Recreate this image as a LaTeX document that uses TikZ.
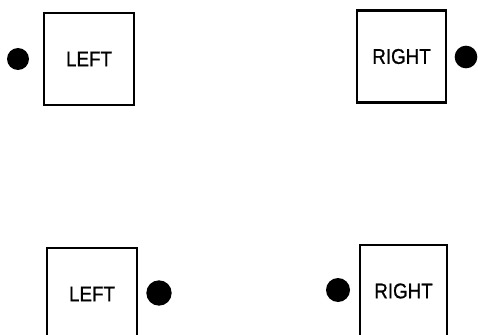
\documentclass[tikz,border=0pt]{standalone}
\usepackage{fontspec}
\newfontfamily\labelfont[FakeStretch=0.88,FakeBold=0.8]{Liberation Sans}
\begin{document}
\begin{tikzpicture}[x=0.75pt,y=-0.75pt,
  panel/.style={draw=black, line width=1.7pt, minimum width=68pt, minimum height=69pt,
    inner sep=0pt, font=\labelfont\fontsize{16}{19}\selectfont},
  lamp/.style={circle, fill=black, inner sep=0pt}]
\useasboundingbox (0,0) rectangle (478,335);
\clip (0,0) rectangle (478,335);
% upper row
\node[panel] (tl) at (89,59) {LEFT};
\node[lamp, minimum size=16.5pt] (tld) at (18,59) {};
\node[panel, minimum width=66.5pt] (tr) at (401.5,56.5) {RIGHT};
\node[lamp, minimum size=17pt] (trd) at (466,57) {};
% lower row (boxes run past the lower edge)
\node[panel, minimum width=67.5pt] (bl) at (92,294) {LEFT};
\node[lamp, minimum size=19pt] (bld) at (159,293) {};
\node[panel, minimum width=65pt] (br) at (403.5,291) {RIGHT};
\node[lamp, minimum size=18pt] (brd) at (338,290) {};
\end{tikzpicture}
\end{document}
